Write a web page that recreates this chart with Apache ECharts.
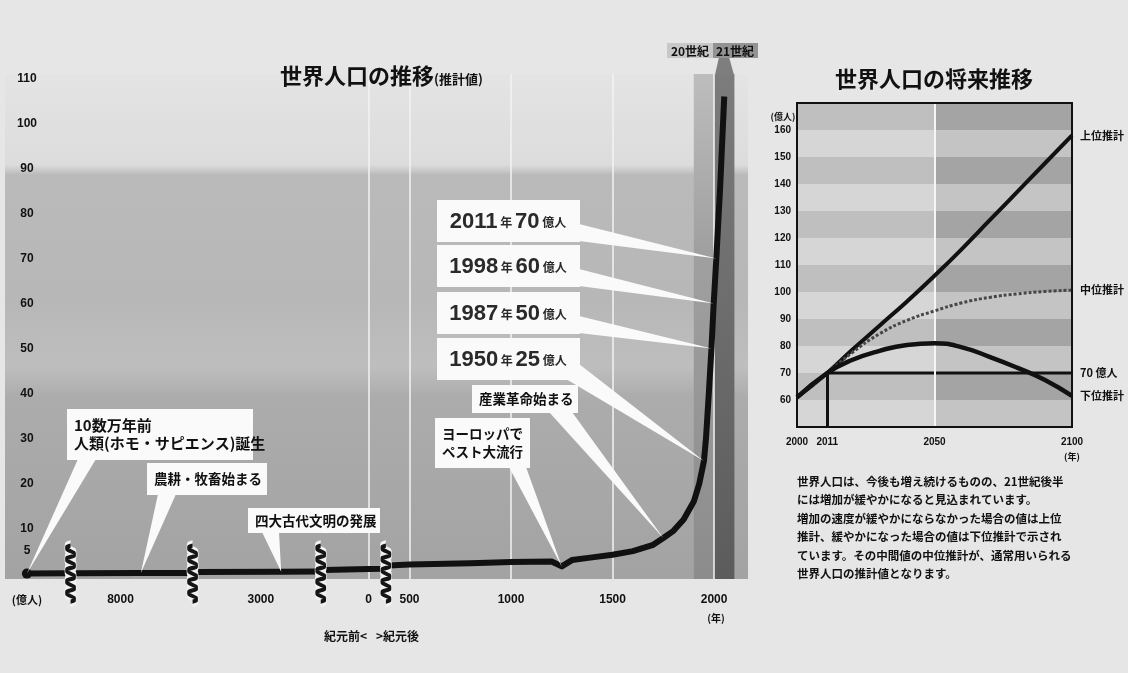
<!DOCTYPE html>
<html>
<head>
<meta charset="utf-8">
<title>世界人口の推移</title>
<script src="https://cdn.jsdelivr.net/npm/echarts@6.0.0/dist/echarts.min.js"></script>
<style>
  html, body { margin: 0; padding: 0; background: #e6e6e6; }
  #main { width: 1128px; height: 673px; }
</style>
</head>
<body>
<div id="main"></div>
<script>
// ---- 左: 世界人口の推移(推計値)  単位: 億人 ----
var histYears = [-100000, -99800, -8230, -7900, -7660, -3320, -2900, -2720, -220, 0, 70,
  400, 500, 800, 1000, 1200, 1250, 1300, 1400, 1500, 1600, 1700, 1750, 1800, 1850,
  1900, 1927, 1950, 1960, 1974, 1987, 1998, 2011, 2030, 2050];
var histPop = [0, 0.05, 0.1, 0.12, 0.15, 0.35, 0.4, 0.45, 0.8, 1.0, 1.1,
  1.8, 2.0, 2.3, 2.6, 2.7, 1.6, 3.0, 3.6, 4.2, 5.0, 6.4, 7.9, 9.5, 12,
  16, 20, 25, 30, 40, 50, 60, 70, 86, 106];
var histXTicks = [-8000, -3000, 0, 500, 1000, 1500, 2000];
var histGridYears = [0, 500, 1000, 1500, 2000];
var histYTicks = [5, 10, 20, 30, 40, 50, 60, 70, 80, 90, 100, 110];
// 省略区間(波線)
var histBreaks = [[-99800, -8230], [-7660, -3320], [-2720, -220], [70, 400]];

var eventLabels = ['10数万年前\n人類(ホモ・サピエンス)誕生', '農耕・牧畜始まる', '四大古代文明の発展',
  'ヨーロッパで\nペスト大流行', '産業革命始まる'];
var eventYears = [-100000, -7900, -2900, 1250, 1750];

var mileYears = [2011, 1998, 1987, 1950];
var milePop = [70, 60, 50, 25];

// ---- 右: 世界人口の将来推移 ----
var projYears = [2000, 2011, 2020, 2030, 2040, 2050, 2060, 2070, 2080, 2090, 2100];
var projHigh = [61, 70, 78.5, 87.5, 96.5, 106, 116, 126.5, 137, 147.5, 158];
var projMid = [61, 70, 77.5, 84.5, 89.5, 93, 96, 98, 99.3, 100.2, 100.7];
var projLow = [61, 70, 74.8, 78.2, 80.4, 81, 79.5, 76, 72, 67.5, 61.5];
var projXTicks = [2000, 2011, 2050, 2100];
var refYear = 2011, refPop = 70;

var noteLines = [
  '世界人口は、今後も増え続けるものの、21世紀後半',
  'には増加が緩やかになると見込まれています。',
  '増加の速度が緩やかにならなかった場合の値は上位',
  '推計、緩やかになった場合の値は下位推計で示され',
  'ています。その中間値の中位推計が、通常用いられる',
  '世界人口の推計値となります。'
];

var FONT = "'Noto Sans CJK JP', 'Noto Sans', sans-serif";
var NUMFONT = "'Liberation Sans', 'DejaVu Sans', sans-serif";

function zip(a, b) {
  return a.map(function (v, i) { return [v, b[i]]; });
}
function popAt(y) {
  return histPop[histYears.indexOf(y)];
}

var wave = 'path://M5 0 C1 4 9 8 5 12 C1 16 9 20 5 24 C1 28 9 32 5 36 C1 40 9 44 5 48 C1 52 9 56 5 60';
var wavePoints = [];
histBreaks.forEach(function (b) {
  wavePoints.push({ coord: [b[0], 0], itemStyle: { color: 'none', borderColor: '#f2f2f2', borderWidth: 4.5 } });
});
histBreaks.forEach(function (b) {
  wavePoints.push({ coord: [b[0], 0], itemStyle: { color: 'none', borderColor: '#151515', borderWidth: 1.8 } });
});

var chart = echarts.init(document.getElementById('main'));

var option = {
  backgroundColor: '#e6e6e6',
  animation: false,
  textStyle: { fontFamily: FONT },
  title: [
    {
      left: 275, top: 60,
      text: '{a|世界人口の推移}{b|(推計値)}',
      textStyle: {
        rich: {
          a: { fontSize: 22, fontWeight: 'bold', color: '#111', fontFamily: FONT },
          b: { fontSize: 13, fontWeight: 'bold', color: '#111', fontFamily: FONT, padding: [7, 0, 0, 0] }
        }
      }
    },
    {
      left: 830, top: 63,
      text: '世界人口の将来推移',
      textStyle: { fontSize: 22, fontWeight: 'bold', color: '#111', fontFamily: FONT }
    }
  ],
  grid: [
    {
      left: 5, top: 74, width: 743, height: 505, show: true, borderWidth: 0,
      backgroundColor: new echarts.graphic.LinearGradient(0, 0, 0, 1, [
        { offset: 0, color: '#e4e4e4' },
        { offset: 0.18, color: '#dcdcdc' },
        { offset: 0.2, color: '#bababa' },
        { offset: 0.45, color: '#b7b7b7' },
        { offset: 0.58, color: '#bebebe' },
        { offset: 0.64, color: '#acacac' },
        { offset: 1, color: '#a3a3a3' }
      ])
    },
    { left: 797, top: 103, width: 275, height: 324, show: false }
  ],
  xAxis: [
    {
      type: 'value', gridIndex: 0, min: -100108, max: 2167,
      breaks: histBreaks.map(function (b) { return { start: b[0], end: b[1], gap: 31 }; }),
      breakArea: { show: false },
      axisLine: { show: false }, axisTick: { show: false }, splitLine: { show: false },
      axisLabel: {
        customValues: histXTicks,
        formatter: function (v) { return String(Math.abs(v)); },
        fontSize: 12, fontWeight: 'bold', color: '#111', fontFamily: NUMFONT, margin: 15
      }
    },
    {
      type: 'value', gridIndex: 1, min: 2000, max: 2100,
      axisLine: { show: false }, axisTick: { show: false }, splitLine: { show: false },
      axisLabel: {
        customValues: projXTicks,
        formatter: function (v) { return String(v); },
        fontSize: 10, fontWeight: 'bold', color: '#111', fontFamily: NUMFONT, margin: 10
      }
    }
  ],
  yAxis: [
    {
      type: 'value', gridIndex: 0, min: -1.2, max: 111,
      axisLine: { show: false }, axisTick: { show: false }, splitLine: { show: false },
      axisLabel: {
        inside: true, customValues: histYTicks, margin: 22, align: 'center',
        fontSize: 12, fontWeight: 'bold', color: '#111', fontFamily: NUMFONT
      }
    },
    {
      type: 'value', gridIndex: 1, min: 50, max: 170, interval: 10,
      axisLine: { show: false }, axisTick: { show: false }, splitLine: { show: false },
      splitArea: { show: true, areaStyle: { color: ['#c4c4c4', '#a4a4a4'] } },
      axisLabel: {
        formatter: function (v) { return (v === 50 || v === 170) ? '' : String(v); },
        fontSize: 10, fontWeight: 'bold', color: '#111', fontFamily: NUMFONT, margin: 6
      }
    }
  ],
  series: [
    // 20世紀・21世紀の帯と白い縦線
    {
      type: 'line', xAxisIndex: 0, yAxisIndex: 0, data: [], silent: true,
      markArea: {
        silent: true,
        data: [
          [{ xAxis: 1900, itemStyle: { color: new echarts.graphic.LinearGradient(0, 0, 0, 1, [
              { offset: 0, color: '#bdbdbd' }, { offset: 0.35, color: '#a0a0a0' }, { offset: 1, color: '#8c8c8c' }]) } },
           { xAxis: 2000 }],
          [{ xAxis: 2000, itemStyle: { color: new echarts.graphic.LinearGradient(0, 0, 0, 1, [
              { offset: 0, color: '#7c7c7c' }, { offset: 1, color: '#5c5c5c' }]) } },
           { xAxis: 2100 }]
        ]
      },
      markLine: {
        silent: true, symbol: 'none', label: { show: false },
        lineStyle: { color: '#f3f3f3', width: 1.5, type: 'solid' },
        data: histGridYears.map(function (v) { return { xAxis: v }; })
      }
    },
    {
      name: '世界人口', type: 'line', xAxisIndex: 0, yAxisIndex: 0, z: 6,
      data: zip(histYears, histPop), showSymbol: false,
      lineStyle: { color: '#111', width: 6, join: 'round' },
      markPoint: {
        z: 10, silent: true, label: { show: false },
        data: wavePoints.map(function (p) {
          return { coord: p.coord, symbol: wave, symbolSize: [10, 56], symbolOffset: [3, 0], itemStyle: p.itemStyle };
        }).concat([{ coord: [histYears[0], histPop[0]], symbol: 'circle', symbolSize: 10, itemStyle: { color: '#111' } }])
      }
    },
    // 右: 左半分を明るく, 2050年の白線, 70億人の線
    {
      type: 'line', xAxisIndex: 1, yAxisIndex: 1, silent: true, z: 4,
      data: [[refYear, refPop], [2100, refPop]], showSymbol: false,
      lineStyle: { color: '#111', width: 3 },
      endLabel: { show: true, formatter: '70 億人', distance: 8, fontSize: 11, fontWeight: 'bold', color: '#111' },
      markArea: {
        silent: true,
        data: [[{ xAxis: 2000, itemStyle: { color: 'rgba(255,255,255,0.3)' } }, { xAxis: 2050 }]]
      },
      markLine: {
        silent: true, symbol: 'none', label: { show: false },
        data: [
          { xAxis: 2050, lineStyle: { color: '#f5f5f5', width: 2, type: 'solid' } },
          [{ coord: [refYear, 50], lineStyle: { color: '#111', width: 3, type: 'solid' } }, { coord: [refYear, refPop] }]
        ]
      }
    },
    {
      name: '上位推計', type: 'line', xAxisIndex: 1, yAxisIndex: 1, z: 5,
      data: zip(projYears, projHigh), showSymbol: false, smooth: true,
      lineStyle: { color: '#111', width: 4 },
      endLabel: { show: true, formatter: '上位推計', distance: 8, fontSize: 11, fontWeight: 'bold', color: '#111' }
    },
    {
      name: '中位推計', type: 'line', xAxisIndex: 1, yAxisIndex: 1, z: 5,
      data: zip(projYears, projMid), showSymbol: false, smooth: true,
      lineStyle: { color: '#474747', width: 3, type: [3, 2] },
      endLabel: { show: true, formatter: '中位推計', distance: 8, fontSize: 11, fontWeight: 'bold', color: '#111' }
    },
    {
      name: '下位推計', type: 'line', xAxisIndex: 1, yAxisIndex: 1, z: 5,
      data: zip(projYears, projLow), showSymbol: false, smooth: true,
      lineStyle: { color: '#111', width: 4.5 },
      endLabel: { show: true, formatter: '下位推計', distance: 8, fontSize: 11, fontWeight: 'bold', color: '#111' }
    }
  ]
};
chart.setOption(option);

// ---- 吹き出し (箱は固定位置, 先端は軸から) ----
function px(year, pop) {
  return chart.convertToPixel({ xAxisIndex: 0, yAxisIndex: 0 }, [year, pop]);
}
var g = [];

// 事象の箱: [x, y, w, h, 吹き出しの付け根x1, x2]
var eventBoxes = [
  [67, 409, 186, 51, 78, 96],
  [147, 463, 120, 32, 158, 176],
  [248, 508, 132, 25, 262, 279],
  [435, 418, 95, 50, 509, 526],
  [472, 385, 106, 28, 549, 572]
];
eventBoxes.forEach(function (b, i) {
  var tip = px(eventYears[i], popAt(eventYears[i]));
  g.push({ type: 'polygon', z: 20, shape: { points: [[b[4], b[1] + b[3] - 1], [b[5], b[1] + b[3] - 1], tip] }, style: { fill: '#fafafa' } });
  g.push({ type: 'rect', z: 21, shape: { x: b[0], y: b[1], width: b[2], height: b[3] }, style: { fill: '#fafafa' } });
  g.push({
    type: 'text', z: 22, x: b[0] + 7, y: b[1] + b[3] / 2,
    style: {
      text: eventLabels[i], align: 'left', verticalAlign: 'middle', lineHeight: 18,
      fontSize: i === 0 ? 15 : 13.5, fontWeight: 'bold', fill: '#111', fontFamily: FONT
    }
  });
});

// 人口到達年の箱
var mileTop = [200, 245, 292, 338];
mileTop.forEach(function (y, i) {
  var tip = px(mileYears[i], milePop[i]);
  var base = i < 3 ? [[579, y + 24], [579, y + 41], tip] : [[566, y + 41], [579, y + 41], [579, y + 26], tip];
  g.push({ type: 'polygon', z: 20, shape: { points: base }, style: { fill: '#fafafa' } });
  g.push({ type: 'rect', z: 21, shape: { x: 437, y: y, width: 143, height: 42 }, style: { fill: '#fafafa' } });
  g.push({
    type: 'text', z: 22, x: 508, y: y + 22,
    style: {
      text: '{n|' + mileYears[i] + '}{u| 年 }{n|' + milePop[i] + '}{u| 億人}',
      align: 'center', verticalAlign: 'middle',
      rich: {
        n: { fontSize: 22, fontWeight: 'bold', fill: '#2a2a2a', color: '#2a2a2a', fontFamily: NUMFONT },
        u: { fontSize: 12, fontWeight: 'bold', fill: '#2a2a2a', color: '#2a2a2a', fontFamily: FONT }
      }
    }
  });
});

// 20世紀 / 21世紀 の見出し
g.push({ type: 'polygon', z: 20, shape: { points: [[719, 57], [729, 57], [734, 75], [715, 75]] }, style: { fill: '#7e7e7e' } });
g.push({ type: 'rect', z: 21, shape: { x: 667, y: 43, width: 46, height: 15 }, style: { fill: '#c8c8c8' } });
g.push({ type: 'rect', z: 21, shape: { x: 713, y: 43, width: 45, height: 15 }, style: { fill: '#939393' } });
g.push({ type: 'text', z: 22, x: 690, y: 51, style: { text: '20世紀', align: 'center', verticalAlign: 'middle', fontSize: 12, fontWeight: 'bold', fill: '#111', fontFamily: FONT } });
g.push({ type: 'text', z: 22, x: 735, y: 51, style: { text: '21世紀', align: 'center', verticalAlign: 'middle', fontSize: 12, fontWeight: 'bold', fill: '#111', fontFamily: FONT } });

// 単位・補足
function note(x, y, text, size, align) {
  return { type: 'text', x: x, y: y, style: { text: text, align: align || 'center', verticalAlign: 'middle', fontSize: size, fontWeight: 'bold', fill: '#111', fontFamily: FONT } };
}
g.push(note(27, 600, '(億人)', 11));
g.push(note(716, 618, '(年)', 10));
g.push(note(367, 636, '紀元前<', 12, 'right'));
g.push(note(376, 636, '>紀元後', 12, 'left'));
g.push(note(783, 117, '(億人)', 9));
g.push(note(1072, 457, '(年)', 9));

// 右グラフの枠
g.push({ type: 'rect', z: 15, shape: { x: 797, y: 103, width: 275, height: 324 }, style: { fill: 'none', stroke: '#111', lineWidth: 2 } });

// 説明文
g.push({
  type: 'text', x: 797, y: 472,
  style: { text: noteLines.join('\n'), fontSize: 11.5, lineHeight: 18.5, fontWeight: 'bold', fill: '#111', fontFamily: FONT }
});

chart.setOption({ graphic: g });
</script>
</body>
</html>
